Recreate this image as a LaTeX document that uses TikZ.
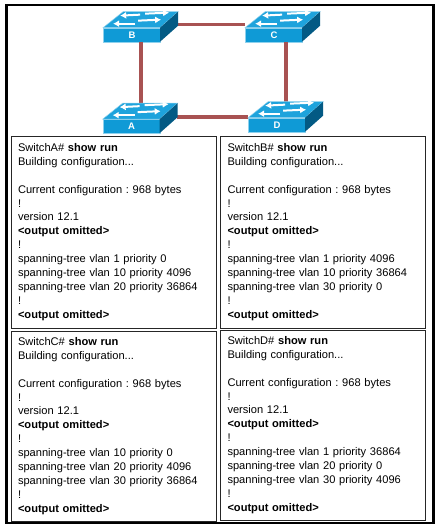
\documentclass[tikz,border=0pt]{standalone}
\usepackage{fontspec}
\setmainfont{Liberation Sans}
\usetikzlibrary{positioning,arrows.meta}
\frenchspacing

\definecolor{swfront}{HTML}{0F9AD6}
\definecolor{swtop}{HTML}{1EA3DC}
\definecolor{swside}{HTML}{035A84}
\definecolor{linkred}{HTML}{A85252}

\tikzset{
	switchnode/.style={draw=swtop!50!white, line width=0.7pt, fill=swfront, text=white, minimum width=57pt, minimum height=14pt, inner sep=0pt, font=\fontsize{9.5}{10}\selectfont\bfseries},
	link/.style={draw=linkred, line width=3.2pt},
	cfgbox/.style={draw=black!85, line width=0.9pt, minimum width=205pt, inner sep=6pt, text width=191pt, align=left, font=\fontsize{11.1}{13.9}\selectfont},
	swarrow/.style={white, line width=2pt, -{Latex[length=6pt,width=7pt]}}
}

% top and side of one switch, hung on its front node
\newcommand{\switchbody}[1]{
	\begin{scope}[shift={(#1.north west)}]
		\fill[swtop, draw=swtop!50!white, line width=0.5pt] (0,0) -- (20,-16) -- (75,-16) -- (57,0) -- cycle;
		\fill[swside] (57,0) -- (75,-16) -- (75,-2) -- (57,14) -- cycle;
		\draw[swarrow] (37,-13) -- (17,-12);
		\draw[swarrow] (42,-14) -- (66,-15);
		\draw[swarrow] (32,-4) -- (10,-4);
		\draw[swarrow] (35,-7) -- (58,-8);
	\end{scope}
}

\newcommand{\cfgtext}[4]{Switch#1\# \textbf{show run}\\
Building configuration...\\[13.9pt]
Current configuration : 968 bytes\\
!\\
version 12.1\\
\textbf{<output omitted>}\\
!\\
#2\\
#3\\
#4\\
!\\
\textbf{<output omitted>}}

\begin{document}
\begin{tikzpicture}[x=1pt, y=-1pt]
	\useasboundingbox (0,0) rectangle (441,531);
	\fill[white] (0,0) rectangle (441,531);

	\node[draw=black, line width=2.5pt, minimum width=427pt, minimum height=518pt] (frame) at (220,264) {};

	\node[switchnode] (b) at (132,35) {B};
	\node[switchnode] (c) at (274,35) {C};
	\node[switchnode] (a) at (131.5,126.5) {A};
	\node[switchnode] (d) at (277,125) {D};

	\draw[link] ([xshift=17pt,yshift=3pt]b.north east) -- ([yshift=3pt]c.north west);
	\draw[link] ([xshift=9pt]b.south) -- ([xshift=9.5pt,yshift=12pt]a.north);
	\draw[link] ([xshift=12pt]c.south) -- ([xshift=9pt,yshift=15pt]d.north);
	\draw[link] ([xshift=17pt,yshift=9.5pt]a.east) -- ([yshift=8pt]d.west);

	\switchbody{b}
	\switchbody{c}
	\switchbody{a}
	\switchbody{d}

	\node[cfgbox, minimum height=192pt] (cfga) at (113.5,232) {\cfgtext{A}{spanning-tree vlan 1 priority 0}{spanning-tree vlan 10 priority 4096}{spanning-tree vlan 20 priority 36864}};
	\node[cfgbox, minimum height=192pt] (cfgb) at (323,232) {\cfgtext{B}{spanning-tree vlan 1 priority 4096}{spanning-tree vlan 10 priority 36864}{spanning-tree vlan 30 priority 0}};
	\node[cfgbox, minimum height=190pt] (cfgc) at (113.5,426) {\cfgtext{C}{spanning-tree vlan 10 priority 0}{spanning-tree vlan 20 priority 4096}{spanning-tree vlan 30 priority 36864}};
	\node[cfgbox, minimum height=190pt] (cfgd) at (323,425) {\cfgtext{D}{spanning-tree vlan 1 priority 36864}{spanning-tree vlan 20 priority 0}{spanning-tree vlan 30 priority 4096}};
\end{tikzpicture}
\end{document}
